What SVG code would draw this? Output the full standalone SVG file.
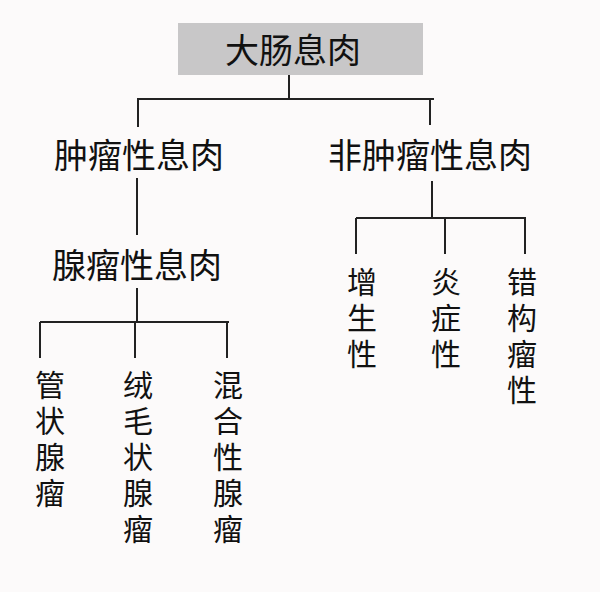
<svg xmlns="http://www.w3.org/2000/svg" width="600" height="592" viewBox="0 0 600 592">
<style>
text{font-family:"Noto Sans CJK SC",sans-serif;font-size:34px;fill:#111;text-anchor:middle}
.v text{font-size:30px}
.c line{stroke:#222;stroke-width:2}
</style>
<rect width="600" height="592" fill="#fcfafa"/>
<g class="c" id="connectors">
<line x1="289" y1="75" x2="289" y2="100"/>
<line x1="137" y1="99" x2="434" y2="99"/>
<line x1="138" y1="99" x2="138" y2="127"/>
<line x1="430" y1="99" x2="430" y2="125"/>
<line x1="137" y1="178" x2="137" y2="235"/>
<line x1="137" y1="288" x2="137" y2="323"/>
<line x1="40" y1="322" x2="229" y2="322"/>
<line x1="40" y1="322" x2="40" y2="358"/>
<line x1="135" y1="322" x2="135" y2="358"/>
<line x1="227" y1="322" x2="227" y2="358"/>
<line x1="432" y1="181" x2="432" y2="219"/>
<line x1="356" y1="218" x2="526" y2="218"/>
<line x1="356" y1="218" x2="356" y2="254"/>
<line x1="445" y1="218" x2="445" y2="254"/>
<line x1="525" y1="218" x2="525" y2="254"/>
</g>
<g id="root"><rect x="178" y="23" width="245" height="52" fill="#c8c7c8"/><text x="293" y="63">大肠息肉</text></g>
<g id="n1"><text x="139" y="168">肿瘤性息肉</text></g>
<g id="n2"><text x="430" y="168">非肿瘤性息肉</text></g>
<g id="n3"><text x="137" y="278">腺瘤性息肉</text></g>
<g class="v">
<g id="a1"><text x="50" y="396">管</text><text x="50" y="432">状</text><text x="50" y="468">腺</text><text x="50" y="504">瘤</text></g>
<g id="a2"><text x="138" y="396">绒</text><text x="138" y="432">毛</text><text x="138" y="468">状</text><text x="138" y="504">腺</text><text x="138" y="540">瘤</text></g>
<g id="a3"><text x="228" y="396">混</text><text x="228" y="432">合</text><text x="228" y="468">性</text><text x="228" y="504">腺</text><text x="228" y="540">瘤</text></g>
<g id="b1"><text x="362" y="293">增</text><text x="362" y="329">生</text><text x="362" y="365">性</text></g>
<g id="b2"><text x="446" y="293">炎</text><text x="446" y="329">症</text><text x="446" y="365">性</text></g>
<g id="b3"><text x="522" y="293">错</text><text x="522" y="329">构</text><text x="522" y="365">瘤</text><text x="522" y="401">性</text></g>
</g>
</svg>
